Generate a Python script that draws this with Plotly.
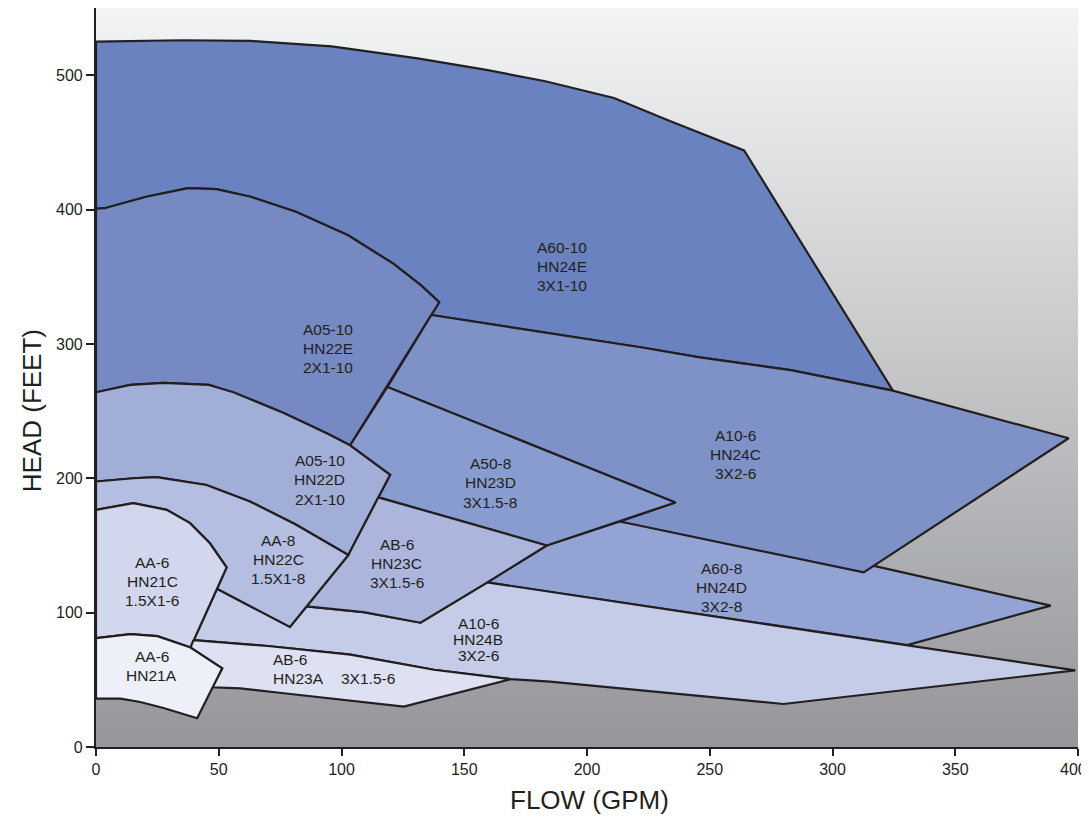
import plotly.graph_objects as go
import numpy as np

# ---------------- data (FLOW GPM, HEAD FEET) ----------------
a6010_x = [0, 35, 63, 96, 131, 159, 183, 211, 233, 264, 324.6, 283, 246, 221.8, 136.6, 139.8, 132.4, 121.1, 102.7, 81.4, 63, 49, 37.5, 20.5, 3.5, 0]
a6010_y = [525, 526, 525.5, 521.5, 512.5, 504, 495.5, 483, 466.5, 444, 265.2, 280.5, 290, 297.5, 321.5, 331, 343.5, 359.7, 380.8, 398.3, 409.5, 415.2, 416, 409.5, 401, 400.7]

a0510e_x = [0, 3.5, 20.5, 37.5, 49, 63, 81.4, 102.7, 121.1, 132.4, 139.8, 103.5, 95, 85.8, 76, 65.5, 46, 27.6, 14, 0]
a0510e_y = [400.7, 401, 409.5, 416, 415.2, 409.5, 398.3, 380.8, 359.7, 343.5, 331, 224.5, 232.5, 240.5, 249, 257, 269.5, 271, 269.5, 264]

a608_x = [159.4, 183.6, 213.4, 317.3, 388.9, 330.4]
a608_y = [122.5, 150, 167.8, 134.6, 105.2, 75.8]

a106c_x = [136.6, 221.8, 246, 283, 324.6, 357.4, 396.2, 312.7, 213.4, 236, 118.7]
a106c_y = [321.5, 297.5, 290, 280.5, 265.2, 249, 229.8, 130, 167.8, 182, 268]

a508_x = [118.7, 236, 183.6, 115, 119.8, 103.5]
a508_y = [268, 182, 150, 185.8, 202.6, 224.5]

a0510d_x = [0, 14, 27.6, 46, 56, 65.5, 76, 85.8, 95, 103.5, 119.8, 102.8, 81, 62.7, 45, 24.7, 15.2, 0]
a0510d_y = [264, 269.5, 271, 269.5, 264, 257, 249, 240.5, 232.5, 224.5, 202.6, 142.9, 166, 182.7, 195, 200.9, 200, 197.6]

a106b_x = [49.3, 79, 85.8, 109, 132.2, 159.4, 398.9, 280, 185, 168.9, 137.6, 103.6, 71, 39.7]
a106b_y = [117.7, 89.4, 104.7, 100.4, 92.5, 122.5, 57, 32, 48.7, 50.5, 57.5, 68.7, 75, 79.5]

ab6c_x = [115, 183.6, 159.4, 132.2, 109, 85.8, 102.8]
ab6c_y = [185.8, 150, 122.5, 92.5, 100.4, 104.7, 142.9]

aa8_x = [0, 15.2, 24.7, 45, 62.7, 81, 102.8, 79, 49.3, 53.2, 46.4, 38.3, 28.8, 15.2, 0]
aa8_y = [197.6, 200, 200.9, 195, 182.7, 166, 142.9, 89.4, 117.7, 133.7, 151.6, 166.6, 176.5, 181.5, 176.5]

aa6c_x = [0, 15.2, 28.8, 38.3, 46.4, 53.2, 38.5, 25, 14, 0]
aa6c_y = [176.5, 181.5, 176.5, 166.6, 151.6, 133.7, 74, 82.5, 84, 81]

ab6a_x = [39.7, 71, 103.6, 137.6, 168.9, 125.4, 76.5, 58.8, 47.3, 51.4, 38.5]
ab6a_y = [79.5, 75, 68.7, 57.5, 50.5, 30, 40, 43.6, 44.4, 58.6, 74]

aa6a_x = [0, 14, 25, 38.5, 51.4, 41.2, 27.5, 18, 10, 0]
aa6a_y = [81, 84, 82.5, 74, 58.6, 21.4, 29, 33.5, 36, 36]

regions = [
    (a6010_x, a6010_y, "#6A83C0"),
    (a0510e_x, a0510e_y, "#7689C3"),
    (a608_x, a608_y, "#93A4D4"),
    (a106c_x, a106c_y, "#7F92C8"),
    (a508_x, a508_y, "#899CD0"),
    (a0510d_x, a0510d_y, "#A1AED8"),
    (a106b_x, a106b_y, "#C4CCE8"),
    (ab6c_x, ab6c_y, "#ACB6DD"),
    (aa8_x, aa8_y, "#B4BEE1"),
    (aa6c_x, aa6c_y, "#D2D7ED"),
    (ab6a_x, ab6a_y, "#DDE1F2"),
    (aa6a_x, aa6a_y, "#EDF0F9"),
]

# labels: lines, center x, center y, line spacing (px), anchor
labels = [
    (["A60-10", "HN24E", "3X1-10"], 190.0, 357.7, 19, "center"),
    (["A05-10", "HN22E", "2X1-10"], 94.7, 296.6, 19, "center"),
    (["A10-6", "HN24C", "3X2-6"], 260.3, 217.4, 19, "center"),
    (["A50-8", "HN23D", "3X1.5-8"], 160.5, 196.5, 19.5, "center"),
    (["A05-10", "HN22D", "2X1-10"], 91.2, 199.0, 19.5, "center"),
    (["AA-8", "HN22C", "1.5X1-8"], 74.3, 139.3, 19, "center"),
    (["AB-6", "HN23C", "3X1.5-6"], 122.5, 136.9, 19, "center"),
    (["AA-6", "HN21C", "1.5X1-6"], 22.9, 123.2, 19, "center"),
    (["A60-8", "HN24D", "3X2-8"], 254.6, 118.7, 19, "center"),
    (["A10-6", "HN24B", "3X2-6"], 155.7, 79.7, 16, "center"),
    (["AA-6", "HN21A"], 22.8, 60.5, 19, "center"),
    (["AB-6", "HN23A"], 71.2, 58.0, 19.7, "left"),
    (["3X1.5-6"], 110.6, 50.7, 19, "center"),
]

x_ticks = [0, 50, 100, 150, 200, 250, 300, 350, 400]
x_ticktext = ["0", "50", "100", "150", "200", "250", "300", "350", ""]
x_last_label = "400"
y_ticks = [0, 100, 200, 300, 400, 500]

TXT = "#231F20"
FONT = "Liberation Sans, Arial, Helvetica, sans-serif"

fig = go.Figure()

# background vertical gradient
gy = np.linspace(0, 550, 12)
fig.add_trace(go.Heatmap(
    x=[0, 400], y=gy, z=[[v, v] for v in gy],
    colorscale=[[0, "rgb(150,150,154)"], [1, "rgb(243,244,246)"]],
    showscale=False, zsmooth="best", hoverinfo="skip"))

for xs, ys, col in regions:
    fig.add_trace(go.Scatter(
        x=list(xs) + [xs[0]], y=list(ys) + [ys[0]],
        mode="lines", fill="toself", fillcolor=col,
        line=dict(color=TXT, width=2.2), hoverinfo="skip", showlegend=False))

ann = []
for lines, cx, cy, sp, anchor in labels:
    n = len(lines)
    for i, t in enumerate(lines):
        ann.append(dict(x=cx, y=cy, xref="x", yref="y", text=t, showarrow=False,
                        xanchor=anchor, yanchor="middle",
                        yshift=((n - 1) / 2 - i) * sp,
                        font=dict(family=FONT, size=15.5, color=TXT)))

# last x tick label, nudged so it stays inside the page
ann.append(dict(x=x_ticks[-1], y=0, xref="x", yref="y", text=x_last_label,
                showarrow=False, xanchor="center", yanchor="middle",
                xshift=-5, yshift=-22,
                font=dict(family=FONT, size=16, color=TXT)))

ann.append(dict(x=201, y=-0.0717, xref="x", yref="paper", text="FLOW (GPM)",
                showarrow=False, xanchor="center", yanchor="middle",
                font=dict(family=FONT, size=26, color=TXT)))
ann.append(dict(x=-0.0655, y=250.4, xref="paper", yref="y", text="HEAD (FEET)",
                showarrow=False, xanchor="center", yanchor="middle", textangle=-90,
                font=dict(family=FONT, size=26, color=TXT)))

fig.update_layout(
    width=1081, height=811,
    margin=dict(l=88, r=11, t=0, b=72),
    paper_bgcolor="white", plot_bgcolor="white",
    showlegend=False,
    annotations=ann,
    xaxis=dict(range=[0, 400], tickvals=x_ticks, ticktext=x_ticktext,
               showgrid=False, zeroline=False,
               showline=True, linecolor=TXT, linewidth=2.2, ticks="outside",
               ticklen=7, tickwidth=1.5, tickcolor=TXT, automargin=False,
               ticklabeloverflow="allow",
               tickfont=dict(family=FONT, size=16, color=TXT)),
    yaxis=dict(range=[0, 550], tickvals=y_ticks, showgrid=False, zeroline=False,
               showline=True, linecolor=TXT, linewidth=2.2, ticks="outside",
               ticklen=8, tickwidth=1.5, tickcolor=TXT, automargin=False,
               ticklabeloverflow="allow",
               tickfont=dict(family=FONT, size=16, color=TXT)),
)

fig.write_html("out.html")
